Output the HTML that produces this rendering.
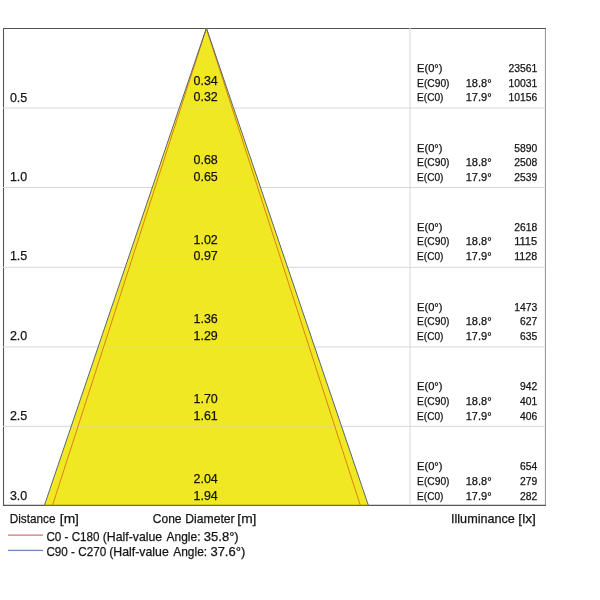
<!DOCTYPE html>
<html><head><meta charset="utf-8"><title>Cone diagram</title>
<style>
html,body{margin:0;padding:0;background:#fff;}
body{width:600px;height:600px;overflow:hidden;}
svg{display:block;will-change:transform;}
text{font-family:"Liberation Sans",sans-serif;fill:#141414;stroke:#141414;stroke-width:0.25;}
</style></head><body>
<svg width="600" height="600" viewBox="0 0 600 600">
<rect x="0" y="0" width="600" height="600" fill="#ffffff"/>
<line x1="545.4" y1="28.5" x2="545.4" y2="505.4" stroke="#8f8f93" stroke-width="1"/>
<polyline points="545.9,28.5 3.5,28.5 3.5,505.4 545.9,505.4" fill="none" stroke="#555555" stroke-width="1.1"/>
<line x1="3.0" y1="108.0" x2="545.4" y2="108.0" stroke="#d6d8d8" stroke-width="1"/>
<line x1="3.0" y1="187.5" x2="545.4" y2="187.5" stroke="#d6d8d8" stroke-width="1"/>
<line x1="3.0" y1="267.35" x2="545.4" y2="267.35" stroke="#d6d8d8" stroke-width="1"/>
<line x1="3.0" y1="346.95" x2="545.4" y2="346.95" stroke="#d6d8d8" stroke-width="1"/>
<line x1="3.0" y1="426.4" x2="545.4" y2="426.4" stroke="#d6d8d8" stroke-width="1"/>
<line x1="410" y1="28.0" x2="410" y2="504.9" stroke="#d6d8d8" stroke-width="1"/>
<polygon points="206.4,28.5 368.4,505.9 44.400000000000006,505.9" fill="#f0e823"/>
<line x1="179.39" y1="108.0" x2="233.41" y2="108.0" stroke="#d9d9a0" stroke-opacity="0.5" stroke-width="1"/>
<line x1="152.39" y1="187.5" x2="260.41" y2="187.5" stroke="#d9d9a0" stroke-opacity="0.5" stroke-width="1"/>
<line x1="125.26" y1="267.35" x2="287.54" y2="267.35" stroke="#d9d9a0" stroke-opacity="0.5" stroke-width="1"/>
<line x1="98.22" y1="346.95" x2="314.58" y2="346.95" stroke="#d9d9a0" stroke-opacity="0.5" stroke-width="1"/>
<line x1="71.24" y1="426.4" x2="341.56" y2="426.4" stroke="#d9d9a0" stroke-opacity="0.5" stroke-width="1"/>
<line x1="44.400000000000006" y1="505.4" x2="368.4" y2="505.4" stroke="#77740f" stroke-width="1.1"/>
<polyline points="52.5,505.4 206.4,28.5 360.3,505.4" fill="none" stroke="#dd741a" stroke-width="0.9"/>
<polyline points="44.400000000000006,505.4 206.4,28.0 368.4,505.4" fill="none" stroke="#5c6668" stroke-width="1"/>
<line x1="8" y1="535.1" x2="43" y2="535.1" stroke="#d97070" stroke-width="1.2"/>
<line x1="8" y1="550.3" x2="43" y2="550.3" stroke="#6f8ab5" stroke-width="1.2"/>
<g>
<text x="9.93" y="101.5" font-size="13.0" textLength="17.36" lengthAdjust="spacingAndGlyphs">0.5</text>
<text x="193.52" y="85.0" font-size="13.0" textLength="24.24" lengthAdjust="spacingAndGlyphs">0.34</text>
<text x="193.52" y="101.4" font-size="13.0" textLength="24.24" lengthAdjust="spacingAndGlyphs">0.32</text>
<text x="417.05" y="72.25" font-size="10.7" textLength="25.47" lengthAdjust="spacingAndGlyphs">E(0°)</text>
<text x="417.05" y="86.8" font-size="10.7" textLength="32.48" lengthAdjust="spacingAndGlyphs">E(C90)</text>
<text x="417.05" y="101.4" font-size="10.7" textLength="26.41" lengthAdjust="spacingAndGlyphs">E(C0)</text>
<text x="465.65" y="86.8" font-size="10.7" textLength="25.91" lengthAdjust="spacingAndGlyphs">18.8°</text>
<text x="465.65" y="101.4" font-size="10.7" textLength="25.91" lengthAdjust="spacingAndGlyphs">17.9°</text>
<text x="508.4" y="72.25" font-size="10.7" textLength="28.87" lengthAdjust="spacingAndGlyphs">23561</text>
<text x="508.4" y="86.8" font-size="10.7" textLength="28.87" lengthAdjust="spacingAndGlyphs">10031</text>
<text x="508.4" y="101.4" font-size="10.7" textLength="28.87" lengthAdjust="spacingAndGlyphs">10156</text>
<text x="9.93" y="180.8" font-size="13.0" textLength="17.36" lengthAdjust="spacingAndGlyphs">1.0</text>
<text x="193.52" y="164.3" font-size="13.0" textLength="24.24" lengthAdjust="spacingAndGlyphs">0.68</text>
<text x="193.52" y="180.7" font-size="13.0" textLength="24.24" lengthAdjust="spacingAndGlyphs">0.65</text>
<text x="417.05" y="151.55" font-size="10.7" textLength="25.47" lengthAdjust="spacingAndGlyphs">E(0°)</text>
<text x="417.05" y="166.1" font-size="10.7" textLength="32.48" lengthAdjust="spacingAndGlyphs">E(C90)</text>
<text x="417.05" y="180.7" font-size="10.7" textLength="26.41" lengthAdjust="spacingAndGlyphs">E(C0)</text>
<text x="465.65" y="166.1" font-size="10.7" textLength="25.91" lengthAdjust="spacingAndGlyphs">18.8°</text>
<text x="465.65" y="180.7" font-size="10.7" textLength="25.91" lengthAdjust="spacingAndGlyphs">17.9°</text>
<text x="514.15" y="151.55" font-size="10.7" textLength="22.99" lengthAdjust="spacingAndGlyphs">5890</text>
<text x="514.15" y="166.1" font-size="10.7" textLength="22.99" lengthAdjust="spacingAndGlyphs">2508</text>
<text x="514.15" y="180.7" font-size="10.7" textLength="22.99" lengthAdjust="spacingAndGlyphs">2539</text>
<text x="9.93" y="260.1" font-size="13.0" textLength="17.36" lengthAdjust="spacingAndGlyphs">1.5</text>
<text x="193.52" y="243.6" font-size="13.0" textLength="24.24" lengthAdjust="spacingAndGlyphs">1.02</text>
<text x="193.52" y="260.0" font-size="13.0" textLength="24.24" lengthAdjust="spacingAndGlyphs">0.97</text>
<text x="417.05" y="230.85" font-size="10.7" textLength="25.47" lengthAdjust="spacingAndGlyphs">E(0°)</text>
<text x="417.05" y="245.4" font-size="10.7" textLength="32.48" lengthAdjust="spacingAndGlyphs">E(C90)</text>
<text x="417.05" y="260.0" font-size="10.7" textLength="26.41" lengthAdjust="spacingAndGlyphs">E(C0)</text>
<text x="465.65" y="245.4" font-size="10.7" textLength="25.91" lengthAdjust="spacingAndGlyphs">18.8°</text>
<text x="465.65" y="260.0" font-size="10.7" textLength="25.91" lengthAdjust="spacingAndGlyphs">17.9°</text>
<text x="514.15" y="230.85" font-size="10.7" textLength="22.99" lengthAdjust="spacingAndGlyphs">2618</text>
<text x="514.15" y="245.4" font-size="10.7" textLength="22.99" lengthAdjust="spacingAndGlyphs">1115</text>
<text x="514.15" y="260.0" font-size="10.7" textLength="22.99" lengthAdjust="spacingAndGlyphs">1128</text>
<text x="9.93" y="339.8" font-size="13.0" textLength="17.36" lengthAdjust="spacingAndGlyphs">2.0</text>
<text x="193.52" y="323.3" font-size="13.0" textLength="24.24" lengthAdjust="spacingAndGlyphs">1.36</text>
<text x="193.52" y="339.7" font-size="13.0" textLength="24.24" lengthAdjust="spacingAndGlyphs">1.29</text>
<text x="417.05" y="310.55" font-size="10.7" textLength="25.47" lengthAdjust="spacingAndGlyphs">E(0°)</text>
<text x="417.05" y="325.1" font-size="10.7" textLength="32.48" lengthAdjust="spacingAndGlyphs">E(C90)</text>
<text x="417.05" y="339.7" font-size="10.7" textLength="26.41" lengthAdjust="spacingAndGlyphs">E(C0)</text>
<text x="465.65" y="325.1" font-size="10.7" textLength="25.91" lengthAdjust="spacingAndGlyphs">18.8°</text>
<text x="465.65" y="339.7" font-size="10.7" textLength="25.91" lengthAdjust="spacingAndGlyphs">17.9°</text>
<text x="514.15" y="310.55" font-size="10.7" textLength="22.99" lengthAdjust="spacingAndGlyphs">1473</text>
<text x="519.9" y="325.1" font-size="10.7" textLength="17.24" lengthAdjust="spacingAndGlyphs">627</text>
<text x="519.9" y="339.7" font-size="10.7" textLength="17.24" lengthAdjust="spacingAndGlyphs">635</text>
<text x="9.93" y="419.7" font-size="13.0" textLength="17.36" lengthAdjust="spacingAndGlyphs">2.5</text>
<text x="193.52" y="403.2" font-size="13.0" textLength="24.24" lengthAdjust="spacingAndGlyphs">1.70</text>
<text x="193.52" y="419.6" font-size="13.0" textLength="24.24" lengthAdjust="spacingAndGlyphs">1.61</text>
<text x="417.05" y="390.45" font-size="10.7" textLength="25.47" lengthAdjust="spacingAndGlyphs">E(0°)</text>
<text x="417.05" y="405.0" font-size="10.7" textLength="32.48" lengthAdjust="spacingAndGlyphs">E(C90)</text>
<text x="417.05" y="419.6" font-size="10.7" textLength="26.41" lengthAdjust="spacingAndGlyphs">E(C0)</text>
<text x="465.65" y="405.0" font-size="10.7" textLength="25.91" lengthAdjust="spacingAndGlyphs">18.8°</text>
<text x="465.65" y="419.6" font-size="10.7" textLength="25.91" lengthAdjust="spacingAndGlyphs">17.9°</text>
<text x="519.9" y="390.45" font-size="10.7" textLength="17.24" lengthAdjust="spacingAndGlyphs">942</text>
<text x="519.9" y="405.0" font-size="10.7" textLength="17.24" lengthAdjust="spacingAndGlyphs">401</text>
<text x="519.9" y="419.6" font-size="10.7" textLength="17.24" lengthAdjust="spacingAndGlyphs">406</text>
<text x="9.93" y="499.6" font-size="13.0" textLength="17.36" lengthAdjust="spacingAndGlyphs">3.0</text>
<text x="193.52" y="483.1" font-size="13.0" textLength="24.24" lengthAdjust="spacingAndGlyphs">2.04</text>
<text x="193.52" y="499.5" font-size="13.0" textLength="24.24" lengthAdjust="spacingAndGlyphs">1.94</text>
<text x="417.05" y="470.35" font-size="10.7" textLength="25.47" lengthAdjust="spacingAndGlyphs">E(0°)</text>
<text x="417.05" y="484.9" font-size="10.7" textLength="32.48" lengthAdjust="spacingAndGlyphs">E(C90)</text>
<text x="417.05" y="499.5" font-size="10.7" textLength="26.41" lengthAdjust="spacingAndGlyphs">E(C0)</text>
<text x="465.65" y="484.9" font-size="10.7" textLength="25.91" lengthAdjust="spacingAndGlyphs">18.8°</text>
<text x="465.65" y="499.5" font-size="10.7" textLength="25.91" lengthAdjust="spacingAndGlyphs">17.9°</text>
<text x="519.9" y="470.35" font-size="10.7" textLength="17.24" lengthAdjust="spacingAndGlyphs">654</text>
<text x="519.9" y="484.9" font-size="10.7" textLength="17.24" lengthAdjust="spacingAndGlyphs">279</text>
<text x="519.9" y="499.5" font-size="10.7" textLength="17.24" lengthAdjust="spacingAndGlyphs">282</text>
<text x="9.72" y="523.2" font-size="13.0" textLength="45.76" lengthAdjust="spacingAndGlyphs">Distance</text>
<text x="59.82" y="523.2" font-size="13.0" textLength="19.13" lengthAdjust="spacingAndGlyphs">[m]</text>
<text x="152.8" y="523.2" font-size="13.0" textLength="28.75" lengthAdjust="spacingAndGlyphs">Cone</text>
<text x="185.32" y="523.2" font-size="13.0" textLength="49.37" lengthAdjust="spacingAndGlyphs">Diameter</text>
<text x="237.32" y="523.2" font-size="13.0" textLength="19.13" lengthAdjust="spacingAndGlyphs">[m]</text>
<text x="451.0" y="523.2" font-size="13.0" textLength="63.91" lengthAdjust="spacingAndGlyphs">Illuminance</text>
<text x="518.33" y="523.2" font-size="13.0" textLength="17.48" lengthAdjust="spacingAndGlyphs">[lx]</text>
<text x="46.4" y="540.7" font-size="13.0" textLength="53.09" lengthAdjust="spacingAndGlyphs">C0 - C180</text>
<text x="102.68" y="540.7" font-size="13.0" textLength="59.49" lengthAdjust="spacingAndGlyphs">(Half-value</text>
<text x="166.62" y="540.7" font-size="13.0" textLength="33.9" lengthAdjust="spacingAndGlyphs">Angle:</text>
<text x="203.82" y="540.7" font-size="13.0" textLength="34.86" lengthAdjust="spacingAndGlyphs">35.8°)</text>
<text x="46.4" y="556.3" font-size="13.0" textLength="59.74" lengthAdjust="spacingAndGlyphs">C90 - C270</text>
<text x="109.28" y="556.3" font-size="13.0" textLength="59.49" lengthAdjust="spacingAndGlyphs">(Half-value</text>
<text x="173.22" y="556.3" font-size="13.0" textLength="33.9" lengthAdjust="spacingAndGlyphs">Angle:</text>
<text x="210.42" y="556.3" font-size="13.0" textLength="34.86" lengthAdjust="spacingAndGlyphs">37.6°)</text>
</g>
</svg></body></html>
